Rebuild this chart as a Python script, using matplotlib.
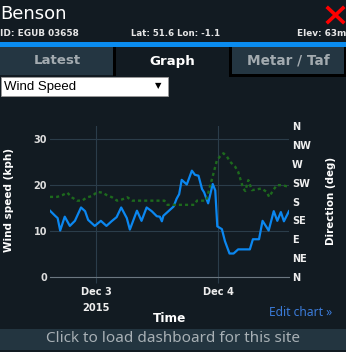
import matplotlib
matplotlib.use("Agg")
import matplotlib.pyplot as plt
from matplotlib.patches import Rectangle
from matplotlib.lines import Line2D

# ===== data (hours since Dec 3 00:00) =====
wind_hours = [-9.1, -8.1, -7.6, -7.1, -6.2, -5.2, -4.2, -3.0, -2.2, -1.6, -0.3,
              0.9, 2.0, 3.0, 4.0, 4.9, 6.0, 6.6, 8.0, 8.9, 9.9, 10.9, 11.9,
              12.5, 12.9, 13.2, 14.2, 15.2, 15.8, 16.3, 16.8, 17.8, 18.8,
              19.4, 20.1, 20.8, 21.2, 22.0, 22.9, 23.4, 23.8, 24.7, 25.3,
              26.2, 27.0, 27.9, 30.2, 30.8, 32.0, 32.7, 33.9, 34.9, 35.6,
              36.3, 36.9, 37.9]
wind_kph = [14.4, 13.3, 12.8, 10.1, 13.1, 11.1, 12.2, 15.1, 14.3, 12.4, 11.1,
            12.2, 11.1, 12.1, 13.0, 15.1, 12.8, 10.3, 14.4, 12.2, 15.1, 14.3,
            13.2, 13.1, 12.1, 13.3, 14.3, 15.3, 17.0, 18.0, 21.1, 20.1, 23.1,
            22.2, 22.0, 19.1, 18.4, 16.0, 20.2, 18.8, 11.0, 10.4, 7.8,
            5.1, 5.1, 6.0, 6.0, 8.2, 8.2, 12.2, 10.1, 14.3, 12.2,
            14.1, 12.1, 14.3]

dir_hours = [-9.1, -7.7, -6.7, -5.7, -4.8, -3.8, -2.8, -1.8, -0.8, 0.2, 1.2,
             2.1, 3.1, 4.1, 5.1, 6.1, 7.1, 13.4, 14.0, 19.3, 19.8, 21.6, 22.7,
             23.7, 24.3, 25.0, 25.7, 26.3, 27.3, 27.9, 28.4, 28.9, 29.3, 29.9,
             30.6, 31.6, 32.5, 33.5, 34.0, 34.8, 35.5, 36.5, 37.9]
dir_deg = [191, 191, 195, 201, 190, 182, 182, 190, 193, 203, 201,
           195, 190, 182, 185, 190, 182, 182, 172, 172, 182, 182, 231,
           277, 287, 295, 287, 275, 263, 251, 231, 211, 205, 231,
           207, 209, 211, 203, 191, 207, 219, 219, 215]

dir_ticks = [0, 45, 90, 135, 180, 225, 270, 315, 360]
dir_labels = ["N", "NE", "E", "SE", "S", "SW", "W", "NW", "N"]
day_ticks = [0, 24]
day_labels = ["Dec 3\n2015", "Dec 4"]

BG = "#121b22"
TAB = "#243642"
W, H = 346, 352
FONT = ["DejaVu Sans"]
SOFT = ["Noto Sans", "DejaVu Sans"]

def fx(x):
    return x / W

def fy(y):
    return 1 - y / H

fig = plt.figure(figsize=(W / 100, H / 100), dpi=100)
fig.patch.set_facecolor(BG)

def rect(x0, y0, x1, y1, color, **kw):
    fig.patches.append(Rectangle((fx(x0), fy(y1)), fx(x1) - fx(x0), fy(y0) - fy(y1),
                                 transform=fig.transFigure, facecolor=color,
                                 edgecolor=kw.pop("ec", "none"), lw=kw.pop("lw", 0), **kw))

def txt(x, y, s, **kw):
    kw.setdefault("family", FONT)
    fig.text(fx(x), fy(y), s, **kw)

# ===== header =====
txt(0, 14, "Benson", color="white", fontsize=13, va="center", ha="left")
txt(0, 34, "ID: EGUB 03658", color="#e6e6e6", fontsize=6.4, va="center", weight="bold")
txt(176, 34, "Lat: 51.6 Lon: -1.1", color="#e6e6e6", fontsize=6.2, va="center", ha="center", weight="bold")
txt(346, 34, "Elev: 63m", color="#e6e6e6", fontsize=6.4, va="center", ha="right", weight="bold")
for a, b in [((328, 8), (343, 22)), ((328, 22), (343, 8))]:
    fig.lines.append(Line2D([fx(a[0]), fx(b[0])], [fy(a[1]), fy(b[1])],
                            transform=fig.transFigure, color="#ff0000", lw=2.6))
rect(0, 42, 346, 47, "#0a8cf0")

# ===== tabs =====
rect(0, 47, 113, 75, TAB)
rect(113, 47, 116, 76, "#000000")
rect(229, 47, 346, 77, "#000000")
rect(232, 47, 344, 74, TAB)
txt(57, 61, "Latest", color="#a3abb0", fontsize=9.6, weight="bold", ha="center", va="center")
txt(172, 61, "Graph", color="white", fontsize=9.6, weight="bold", ha="center", va="center")
txt(288, 61, "Metar / Taf", color="#a3abb0", fontsize=9.8, weight="bold", ha="center", va="center")

# dropdown
rect(1, 77, 168, 96, "white", ec="#9a9a9a", lw=0.6)
txt(4, 87, "Wind Speed", color="black", fontsize=9.5, va="center", family=["Liberation Sans", "DejaVu Sans"])
txt(158, 86, "\u25bc", color="black", fontsize=6, ha="center", va="center", family=["DejaVu Sans"])

# ===== chart =====
ax = fig.add_axes([fx(50), fy(277), fx(289) - fx(50), fy(126) - fy(277)])
ax.set_facecolor(BG)
ax2 = ax.twinx()

ax.plot(wind_hours, wind_kph, color="#0b87f0", lw=1.6, zorder=3)
ax2.plot(dir_hours, dir_deg, color="#1d6a1d", lw=1.7, ls=(0, (1.3, 1.3)), zorder=2)

ax.set_xlim(-9.1, 37.9)
ax.set_ylim(0, 32.8)
ax2.set_ylim(0, 360)
ax.set_yticks([0, 10, 20, 30])
ax2.set_yticks(dir_ticks)
ax2.set_yticklabels(dir_labels)
ax.set_xticks(day_ticks)
ax.set_xticklabels(day_labels)

ax.grid(True, color="#2b3d4a", lw=0.8)
for a in (ax, ax2):
    for sp in a.spines.values():
        sp.set_visible(False)
ax.spines["bottom"].set_visible(True)
ax.spines["bottom"].set_color("#6b7780")
ax.tick_params(axis="x", colors="#2b3d4a", length=4, width=0.8, pad=3,
               labelcolor="#eeeeee", labelsize=7.1)
ax.tick_params(axis="y", length=0, pad=2, labelcolor="#dddddd", labelsize=7)
ax2.tick_params(axis="y", length=0, pad=2, labelcolor="#eeeeee", labelsize=7)
for lab in ax.get_xticklabels() + ax.get_yticklabels() + ax2.get_yticklabels():
    lab.set_fontweight("bold")
    lab.set_family(FONT)
for lab in ax.get_xticklabels():
    lab.set_linespacing(1.75)

txt(9, 200, "Wind speed (kph)", color="white", fontsize=7.5, weight="bold",
    rotation=90, ha="center", va="center")
txt(331, 201, "Direction (deg)", color="white", fontsize=7.4, weight="bold",
    rotation=90, ha="center", va="center")
txt(170, 318, "Time", color="white", fontsize=8.7, weight="bold", ha="center", va="center")
txt(332, 313, "Edit chart \u00bb", color="#3b7bd9", fontsize=8.7, ha="right", va="center", family=SOFT)

# ===== bottom bar =====
rect(0, 329, 346, 350, "#233540")
txt(173, 339, "Click to load dashboard for this site", color="#a8b0b5",
    fontsize=11, ha="center", va="center", family=SOFT)

fig.savefig("out.png", dpi=100, facecolor=BG)
